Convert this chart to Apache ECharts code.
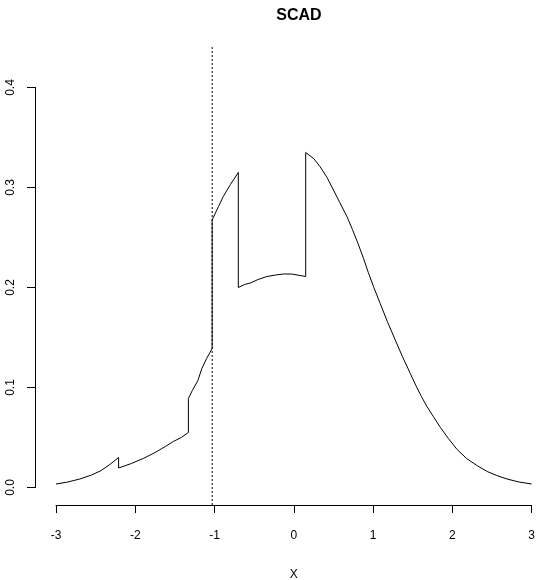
<!DOCTYPE html>
<html>
<head>
<meta charset="utf-8">
<script src="https://cdn.jsdelivr.net/npm/echarts@6/dist/echarts.min.js"></script>
<style>html,body{margin:0;padding:0;background:#fff}#c{width:540px;height:580px}</style>
</head>
<body>
<div id="c"></div>
<script>
// Data
var titleText = 'SCAD';
var xName = 'X';
var xTicks = [-3, -2, -1, 0, 1, 2, 3];
var yTicks = [0.0, 0.1, 0.2, 0.3, 0.4];
var curveX = [-3.00,-2.85,-2.70,-2.55,-2.43,-2.32,-2.21,
  -2.21,-2.05,-1.90,-1.75,-1.62,-1.52,-1.42,-1.33,
  -1.33,-1.28,-1.21,-1.16,-1.10,-1.03,
  -1.03,-0.95,-0.89,-0.80,-0.70,
  -0.70,-0.62,-0.55,-0.45,-0.34,-0.23,-0.13,-0.03,0.08,0.15,
  0.15,0.25,0.33,0.42,0.50,0.58,0.67,0.74,0.81,0.88,0.94,1.01,1.09,1.18,1.28,1.37,1.47,1.54,1.61,1.68,1.76,1.85,1.95,2.06,2.18,2.31,2.44,2.56,2.69,2.84,3.00];
var curveY = [0.0035,0.0055,0.0085,0.0125,0.0170,0.0230,0.0300,
  0.0195,0.0240,0.0290,0.0350,0.0410,0.0460,0.0500,0.0550,
  0.0890,0.0970,0.1070,0.1190,0.1290,0.1390,
  0.2675,0.2810,0.2910,0.3030,0.3150,
  0.2000,0.2030,0.2045,0.2080,0.2110,0.2125,0.2135,0.2135,0.2120,0.2110,
  0.3350,0.3290,0.3210,0.3100,0.2975,0.2850,0.2710,0.2580,0.2440,0.2290,0.2150,0.2000,0.1840,0.1660,0.1475,0.1310,0.1140,0.1020,0.0910,0.0810,0.0710,0.0600,0.0490,0.0380,0.0290,0.0220,0.0160,0.0120,0.0085,0.0055,0.0035];
var refX = -1.03;
var refYRange = [-0.0175, 0.4425];

var curve = curveX.map(function(x, i){ return [x, curveY[i]]; });
var refLine = refYRange.map(function(y){ return [refX, y]; });

var font = 'Liberation Sans, Arial, Helvetica, sans-serif';
var chart = echarts.init(document.getElementById('c'), null, {renderer: 'canvas'});
chart.setOption({
  animation: false,
  backgroundColor: '#fff',
  title: {
    text: titleText,
    left: 294, top: 3, textAlign: 'center',
    textStyle: {fontFamily: font, fontWeight: 'bold', fontSize: 16, color: '#000'}
  },
  grid: {left: 56, top: 87.5, width: 475.6, height: 400, outerBoundsMode: 'none', containLabel: false},
  xAxis: {
    type: 'value', min: -3, max: 3, interval: 1, offset: 17.5,
    name: xName, nameLocation: 'middle', nameGap: 64,
    nameTextStyle: {fontFamily: font, fontSize: 12, color: '#000'},
    axisLine: {show: true, onZero: false, lineStyle: {color: '#000', width: 1}},
    axisTick: {show: true, length: 8, lineStyle: {color: '#000', width: 1}},
    axisLabel: {fontFamily: font, fontSize: 12, color: '#000', margin: 25},
    splitLine: {show: false}
  },
  yAxis: {
    type: 'value', min: 0, max: 0.4, interval: 0.1, offset: 21,
    axisLine: {show: true, onZero: false, lineStyle: {color: '#000', width: 1}},
    axisTick: {show: true, length: 8, lineStyle: {color: '#000', width: 1}},
    axisLabel: {fontFamily: font, fontSize: 12, color: '#000', rotate: 90, margin: 18,
      formatter: function(v){ return v.toFixed(1); }},
    splitLine: {show: false}
  },
  series: [
    {type: 'line', data: curve, showSymbol: false, clip: false, smooth: false,
     lineStyle: {color: '#000', width: 1}},
    {type: 'line', data: refLine, showSymbol: false, clip: false,
     lineStyle: {color: '#000', width: 1, type: [2, 2]}}
  ]
});
</script>
</body>
</html>
